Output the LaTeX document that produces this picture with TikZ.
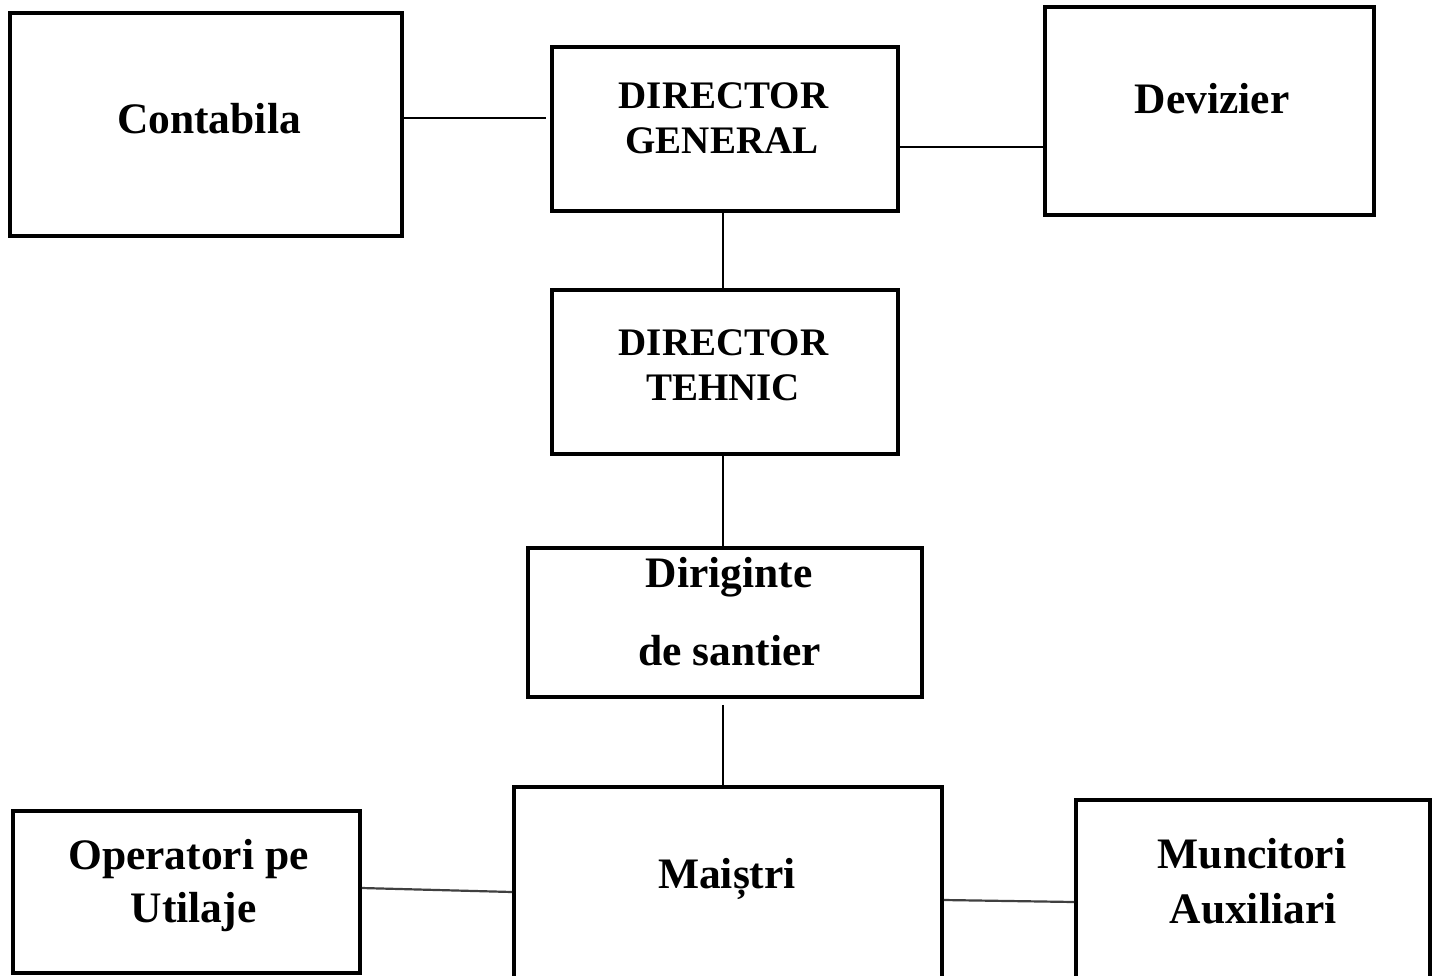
\documentclass[tikz,border=0pt]{standalone}
\usepackage{fontspec}
\setmainfont{Liberation Serif}
\begin{document}
\begin{tikzpicture}[x=0.5pt,y=-0.5pt,
  box/.style={draw, line width=1.8pt, inner sep=0pt},
  conn/.style={line width=1.3pt},
  connthin/.style={line width=1.1pt, black!75},
  lbl/.style={font=\bfseries\fontsize{21.75}{26}\selectfont, inner sep=0pt, anchor=base},
  caps/.style={font=\bfseries\fontsize{19.5}{22}\selectfont, inner sep=0pt, anchor=base}]
\useasboundingbox (0,0) rectangle (1439,975);
\clip (0,0) rectangle (1439,975);
\fill[white] (0,0) rectangle (1439,975);

% boxes
\node[box, minimum width=196pt, minimum height=111.5pt] (con) at (206,124.5) {};
\node[box, minimum width=173pt, minimum height=82pt] (dg) at (725,129) {};
\node[box, minimum width=164.5pt, minimum height=104pt] (dev) at (1209.5,111) {};
\node[box, minimum width=173pt, minimum height=82pt] (dt) at (725,372) {};
\node[box, minimum width=197pt, minimum height=74.5pt] (dir) at (725,622.5) {};
\node[box, minimum width=173.5pt, minimum height=81pt] (op) at (186.5,892) {};
\node[box, minimum width=214pt, minimum height=111.5pt] (mai) at (728,898.5) {};
\node[box, minimum width=177pt, minimum height=105pt] (mun) at (1253,905) {};

% labels
\node[lbl] (tcon) at (209,133) {Contabila};
\node[caps] (tdg1) at (723.5,108) {DIRECTOR};
\node[caps] (tdg2) at (722,153) {GENERAL};
\node[lbl] (tdev) at (1212,113) {Devizier};
\node[caps] (tdt1) at (723.5,355) {DIRECTOR};
\node[caps] (tdt2) at (723,400) {TEHNIC};
\node[lbl] (tdir1) at (729,587) {Diriginte};
\node[lbl] (tdir2) at (729.5,665) {de santier};
\node[lbl] (top1) at (188.5,869) {Operatori pe};
\node[lbl] (top2) at (193.5,922) {Utilaje};
\node[lbl] (tmai) at (727,888) {Maiștri};
\node[lbl] (tmun1) at (1252,868) {Muncitori};
\node[lbl] (tmun2) at (1253,923) {Auxiliari};

% connectors
\draw[conn] ([yshift=3.25pt]con.east) -- ([yshift=3.25pt,xshift=-2pt]con.east -| dg.west);
\draw[conn] ([yshift=-9pt]dg.east) -- ([yshift=-9pt]dg.east -| dev.west);
\draw[conn] ([xshift=-1pt]dg.south) -- ([xshift=-1pt]dt.north);
\draw[conn] ([xshift=-1pt]dt.south) -- ([xshift=-1pt]dir.north);
\draw[conn] ([xshift=-1pt,yshift=-3pt]dir.south) -- ([xshift=-1pt]dir.south |- mai.north);
\draw[connthin] ([yshift=2pt]op.east) -- (op.east -| mai.west);
\draw[connthin] ([yshift=-0.75pt]mai.east) -- ([yshift=-1.75pt]mai.east -| mun.west);
\end{tikzpicture}
\end{document}
